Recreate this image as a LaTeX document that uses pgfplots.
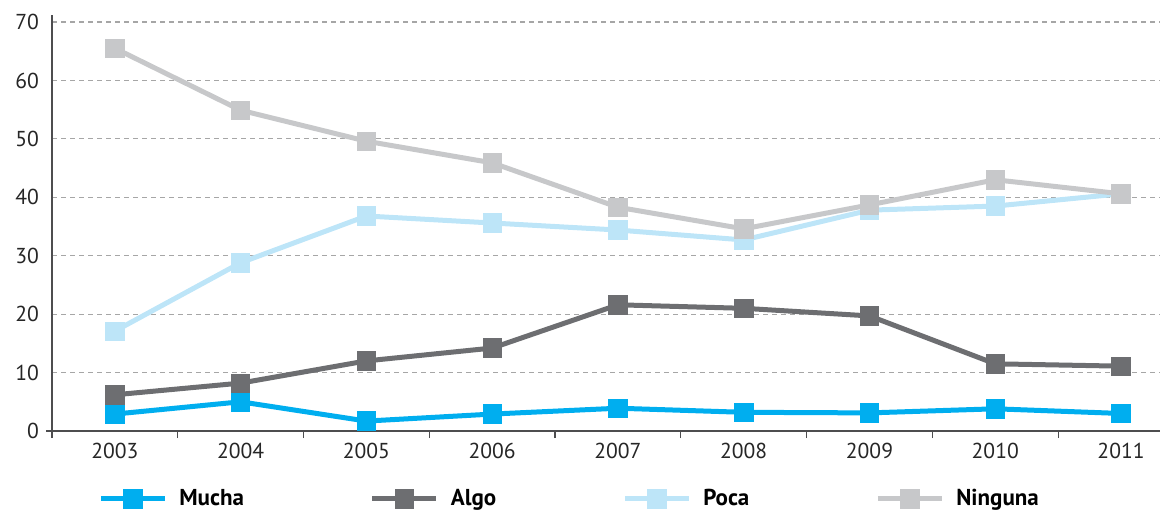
\documentclass[border=0pt]{standalone}
\usepackage{fontspec}
\setmainfont{PT Sans}
\usepackage{pgfplots}
\usepackage{pgfplotstable}
\pgfplotsset{compat=1.18}

\definecolor{mucha}{HTML}{00AEEF}
\definecolor{algo}{HTML}{6D6E71}
\definecolor{poca}{HTML}{BDE5F8}
\definecolor{ninguna}{HTML}{C7C8CA}
\definecolor{axisgray}{HTML}{4D4D4F}

% x: 0 = 2003 ... 8 = 2011
\pgfplotstableread{
x mucha algo poca ninguna
0 2.9 6.2 17.1 65.5
1 5.0 8.2 28.8 54.9
2 1.7 12.0 36.8 49.6
3 2.9 14.2 35.6 45.9
4 3.9 21.6 34.4 38.3
5 3.2 21.0 32.7 34.6
6 3.1 19.7 37.8 38.7
7 3.8 11.5 38.5 43.0
8 3.0 11.1 40.6 40.6
}\datatable

\begin{document}
\begin{tikzpicture}
% 1 px of the reference = 0.5pt
\useasboundingbox (0pt,0pt) rectangle (580pt,-254.5pt);
\begin{axis}[
    scale only axis,
    width=554pt, height=208pt,
    at={(26pt,-215.5pt)}, anchor=south west,
    xmin=-0.5, xmax=8.31,
    ymin=0, ymax=71.2,
    axis lines*=left,
    axis line style={axisgray, line width=0.75pt},
    xtick={0,...,8},
    xticklabels={2003,2004,2005,2006,2007,2008,2009,2010,2011},
    minor xtick={-0.5,0.5,...,8.5},
    ytick={0,10,...,70},
    major tick length=0pt,
    minor tick length=3.5pt,
    tick align=outside,
    tick style={axisgray, line width=0.6pt},
    extra y ticks={0},
    extra y tick labels={},
    extra y tick style={major tick length=3pt, tick align=outside, grid=none},
    ymajorgrids,
    major grid style={gray!70, line width=0.6pt, dash pattern=on 2.5pt off 2pt},
    xticklabel style={font=\fontsize{10.8}{12}\selectfont, text=black!85, yshift=-2.5pt},
    yticklabel style={font=\fontsize{10.8}{12}\selectfont, text=black!85, xshift=-3pt},
    /pgf/number format/assume math mode=true,
    /pgf/number format/1000 sep={},
    clip=false,
    every axis plot/.append style={line width=2.5pt, mark=square*, mark size=4.6pt,
        mark options={solid, line width=0.4pt}},
    legend columns=4,
    legend style={at={(0.036,-0.163)}, anchor=west, draw=none, fill=none,
        font=\fontsize{11.5}{13}\selectfont\bfseries,
        /tikz/every even column/.append style={column sep=61pt},
        /tikz/every odd column/.append style={column sep=4pt}},
    legend image code/.code={%
        \draw[#1, mark repeat=2, mark phase=2] plot coordinates {(0pt,0pt) (16pt,0pt) (32pt,0pt)};},
]
\addplot[mucha] table[x=x, y=mucha] {\datatable};
\addlegendentry{Mucha}
\addplot[algo] table[x=x, y=algo] {\datatable};
\addlegendentry{Algo}
\addplot[poca] table[x=x, y=poca] {\datatable};
\addlegendentry{Poca}
\addplot[ninguna] table[x=x, y=ninguna] {\datatable};
\addlegendentry{Ninguna}
\end{axis}
\end{tikzpicture}
\end{document}
